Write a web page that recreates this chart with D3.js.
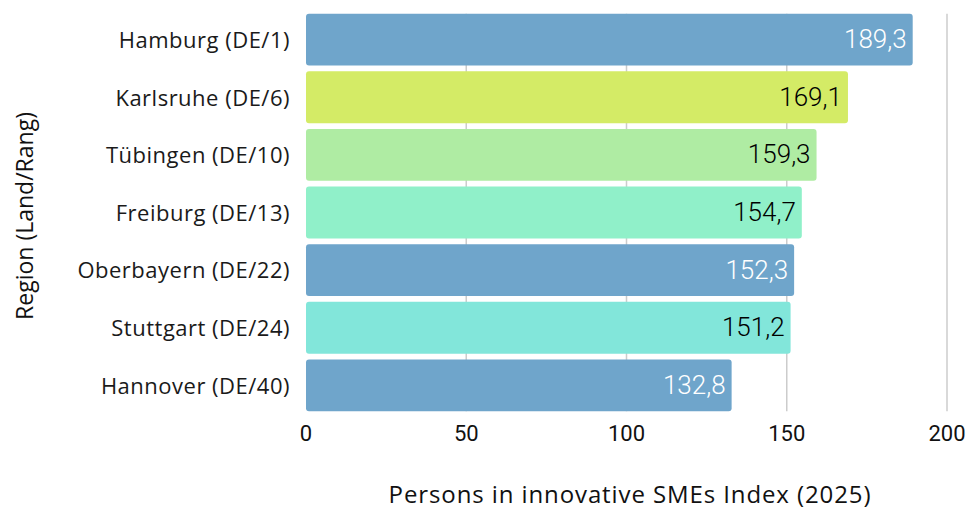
<!doctype html>
<html lang="de">
<head>
  <meta charset="utf-8">
  <title>Persons in innovative SMEs Index (2025)</title>
  <style>
body { margin: 0; background: #fff; }
.grid line { stroke: #cccccc; stroke-width: 1.5; }
.cat { font: 22px "Open Sans", sans-serif; fill: #1a1a1a; letter-spacing: 0.5px; }
.tick-label { font: 22px "Roboto", sans-serif; fill: #111; }
.val { font: 300 26px "Roboto", sans-serif; }
.title { font: 24px "Open Sans", sans-serif; fill: #111; letter-spacing: 0.9px; }
.ytitle { font: 23px "Open Sans", sans-serif; fill: #111; }
  </style>
</head>
<body>
  <script src="https://d3js.org/d3.v7.min.js"></script>
  <script>
var regions = ['Hamburg (DE/1)', 'Karlsruhe (DE/6)', 'Tübingen (DE/10)', 'Freiburg (DE/13)',
               'Oberbayern (DE/22)', 'Stuttgart (DE/24)', 'Hannover (DE/40)'];
var values = [189.3, 169.1, 159.3, 154.7, 152.3, 151.2, 132.8];
var barColors = ['#6fa5cb', '#d4eb66', '#afeca3', '#90f0c9', '#6fa5cb', '#82e6da', '#6fa5cb'];
var labelColors = ['#fff', '#000', '#000', '#000', '#fff', '#000', '#fff'];
var xTicks = [0, 50, 100, 150, 200];

var width = 973, height = 509;

var x = d3.scaleLinear().domain([0, 200]).range([306, 947]);
var y = d3.scaleBand().domain(regions).range([8, 417]).padding(0.1);

var svg = d3.select("body").append("svg")
    .attr("width", width)
    .attr("height", height);

// gridlines behind bars
svg.append("g").attr("class", "grid")
  .selectAll("line")
  .data(xTicks.slice(1))
  .enter().append("line")
    .attr("x1", function(d) { return x(d); })
    .attr("x2", function(d) { return x(d); })
    .attr("y1", y(regions[0]))
    .attr("y2", y(regions[regions.length - 1]) + y.bandwidth());

var data = regions.map(function(r, i) { return {name: r, value: values[i], i: i}; });

svg.selectAll(".bar")
    .data(data)
    .enter().append("rect")
    .attr("class", "bar")
    .attr("rx", 3)
    .attr("ry", 3)
    .attr("x", x(0))
    .attr("y", function(d) { return y(d.name); })
    .attr("width", function(d) { return x(d.value) - x(0); })
    .attr("height", y.bandwidth())
    .attr("fill", function(d) { return barColors[d.i]; });

// value labels inside bar end
svg.selectAll(".val")
    .data(data)
    .enter().append("text")
    .attr("class", "val")
    .attr("x", function(d) { return x(d.value) - 6; })
    .attr("y", function(d) { return y(d.name) + y.bandwidth() / 2; })
    .attr("dy", "0.33em")
    .attr("text-anchor", "end")
    .attr("fill", function(d) { return labelColors[d.i]; })
    .text(function(d) { return d.value.toFixed(1).replace('.', ','); });

// category labels
svg.selectAll(".cat")
    .data(regions)
    .enter().append("text")
    .attr("class", "cat")
    .attr("x", 290)
    .attr("y", function(d) { return y(d) + y.bandwidth() / 2; })
    .attr("dy", "0.38em")
    .attr("text-anchor", "end")
    .text(function(d) { return d; });

// x tick labels
svg.selectAll(".tick-label")
    .data(xTicks)
    .enter().append("text")
    .attr("class", "tick-label")
    .attr("x", function(d) { return x(d); })
    .attr("y", 441)
    .attr("text-anchor", "middle")
    .text(function(d) { return d; });

svg.append("text")
    .attr("class", "title")
    .attr("x", 630)
    .attr("y", 503)
    .attr("text-anchor", "middle")
    .text("Persons in innovative SMEs Index (2025)");

svg.append("text")
    .attr("class", "ytitle")
    .attr("transform", "translate(33,216) rotate(-90)")
    .attr("text-anchor", "middle")
    .text("Region (Land/Rang)");
  </script>
</body>
</html>
